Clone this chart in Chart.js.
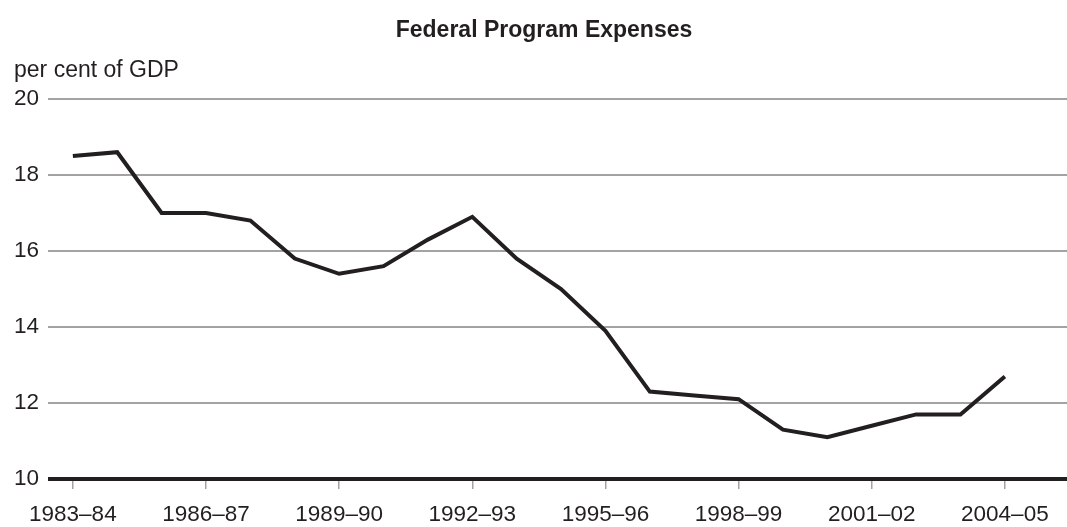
<!DOCTYPE html>
<html>
<head>
<meta charset="utf-8">
<script src="https://cdn.jsdelivr.net/npm/chart.js@4"></script>
<style>
  body { margin: 0; background: #fff; }
  #wrap { width: 1067px; height: 527px; }
</style>
</head>
<body>
<div id="wrap"><canvas id="expChart"></canvas></div>
<script>
// fiscal years, one per point
const years = [
  "1983–84", "1984–85", "1985–86", "1986–87", "1987–88", "1988–89",
  "1989–90", "1990–91", "1991–92", "1992–93", "1993–94", "1994–95",
  "1995–96", "1996–97", "1997–98", "1998–99", "1999–2000", "2000–01",
  "2001–02", "2002–03", "2003–04", "2004–05"
];
// program expenses, per cent of GDP
const expenses = [
  18.5, 18.6, 17.0, 17.0, 16.8, 15.8, 15.4, 15.6, 16.3, 16.9, 15.8,
  15.0, 13.9, 12.3, 12.2, 12.1, 11.3, 11.1, 11.4, 11.7, 11.7, 12.7
];
// which years get a label on the x axis
const labelledYears = [0, 3, 6, 9, 12, 15, 18, 21];
const yTicks = [10, 12, 14, 16, 18, 20];

const titleText = "Federal Program Expenses";
const unitText = "per cent of GDP";

const ink = "#231f20";
const gridGrey = "#a3a3a3";
const fontFamily = "'Liberation Sans', Arial, Helvetica, sans-serif";

// title and unit label sit above the plot
const headerText = {
  id: "headerText",
  afterDraw(chart) {
    const c = chart.ctx;
    c.save();
    c.fillStyle = ink;
    c.textBaseline = "middle";
    c.font = "bold 23px " + fontFamily;
    c.textAlign = "center";
    c.fillText(titleText, 544, 31);
    c.font = "23px " + fontFamily;
    c.textAlign = "left";
    c.fillText(unitText, 14, 71);
    c.restore();
  }
};

const points = expenses.map((v, i) => ({ x: i, y: v }));

new Chart(document.getElementById("expChart").getContext("2d"), {
  type: "line",
  data: {
    datasets: [
      {
        data: points,
        borderColor: ink,
        borderWidth: 4,
        pointRadius: 0,
        tension: 0,
        fill: false,
        borderJoinStyle: "miter"
      }
    ]
  },
  options: {
    responsive: true,
    maintainAspectRatio: false,
    animation: false,
    layout: { padding: { top: 99, right: 0, bottom: 0, left: 0 } },
    plugins: {
      legend: { display: false },
      title: { display: false },
      tooltip: { enabled: false }
    },
    scales: {
      x: {
        type: "linear",
        min: -0.56,
        max: 22.4,
        afterBuildTicks(scale) {
          scale.ticks = labelledYears.map(i => ({ value: i }));
        },
        afterFit(scale) {
          scale.height = 48;
        },
        ticks: {
          autoSkip: false,
          maxRotation: 0,
          padding: 13,
          color: ink,
          font: { family: fontFamily, size: 22.5, lineHeight: 1.1 },
          callback: v => years[v]
        },
        grid: {
          drawOnChartArea: false,
          drawTicks: true,
          tickLength: 10,
          color: gridGrey,
          lineWidth: 1.5
        },
        border: { display: false }
      },
      y: {
        min: 10,
        max: 20,
        afterFit(scale) {
          scale.width = 48;
        },
        afterBuildTicks(scale) {
          scale.ticks = yTicks.map(v => ({ value: v }));
        },
        ticks: {
          padding: 9,
          color: ink,
          font: { family: fontFamily, size: 22.5 }
        },
        grid: {
          drawTicks: false,
          color: ctx => (ctx.tick && ctx.tick.value === 10 ? ink : gridGrey),
          lineWidth: ctx => (ctx.tick && ctx.tick.value === 10 ? 4 : 2)
        },
        border: { display: false }
      }
    }
  },
  plugins: [headerText]
});
</script>
</body>
</html>
